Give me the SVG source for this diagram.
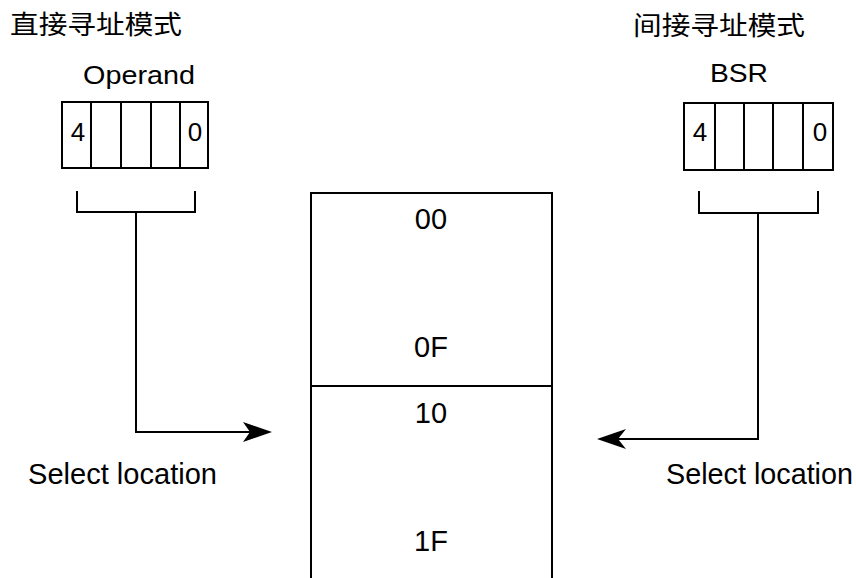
<svg xmlns="http://www.w3.org/2000/svg" width="856" height="578" viewBox="0 0 856 578">
<style>
  .ln{fill:none;stroke:#000;stroke-width:2}
  .t{font-family:"Liberation Sans","Noto Sans CJK SC",Arial,sans-serif;fill:#000}
  .big{font-size:29px}
  .mid{font-size:26px}
  .cjk{font-size:26px}
</style>
<rect width="856" height="578" fill="#fff"/>
<text class="t cjk" x="10" y="34" textLength="172" lengthAdjust="spacingAndGlyphs">直接寻址模式</text>
<text class="t cjk" x="633" y="35" textLength="172" lengthAdjust="spacingAndGlyphs">间接寻址模式</text>

<g id="operand">
  <text class="t mid" x="139" y="84" text-anchor="middle" textLength="112" lengthAdjust="spacingAndGlyphs">Operand</text>
  <rect class="ln" x="62" y="102" width="146" height="66"/>
  <path class="ln" d="M91 102V168M121 102V168M151 102V168M180 102V168"/>
  <text class="t mid" x="78" y="141" text-anchor="middle">4</text>
  <text class="t mid" x="195" y="141" text-anchor="middle">0</text>
  <path class="ln" d="M77 191V212H195V191"/>
</g>

<g id="bsr">
  <text class="t mid" x="739" y="82" text-anchor="middle" textLength="58" lengthAdjust="spacingAndGlyphs">BSR</text>
  <rect class="ln" x="684" y="103" width="149" height="67"/>
  <path class="ln" d="M715 103V170M744 103V170M773 103V170M803 103V170"/>
  <text class="t mid" x="700" y="141" text-anchor="middle">4</text>
  <text class="t mid" x="820" y="141" text-anchor="middle">0</text>
  <path class="ln" d="M699 191V213H818V191"/>
</g>

<g id="memory">
  <path class="ln" d="M311 578V193H552V578"/>
  <path class="ln" d="M311 386H552"/>
  <text class="t big" x="431" y="229" text-anchor="middle">00</text>
  <text class="t big" x="431" y="357" text-anchor="middle">0F</text>
  <text class="t big" x="431" y="423" text-anchor="middle">10</text>
  <text class="t big" x="431" y="551" text-anchor="middle">1F</text>
</g>

<g id="connectors">
  <path class="ln" d="M136 212V432H252"/>
  <path d="M272 432L243 422L250 432L243 442Z" fill="#000"/>
  <path class="ln" d="M758 213V439H616"/>
  <path d="M597 439L626 429L618 439L626 449Z" fill="#000"/>
</g>

<g id="labels">
  <text class="t big" x="28" y="484" textLength="189" lengthAdjust="spacingAndGlyphs">Select location</text>
  <text class="t big" x="666" y="484" textLength="187" lengthAdjust="spacingAndGlyphs">Select location</text>
</g>
</svg>
